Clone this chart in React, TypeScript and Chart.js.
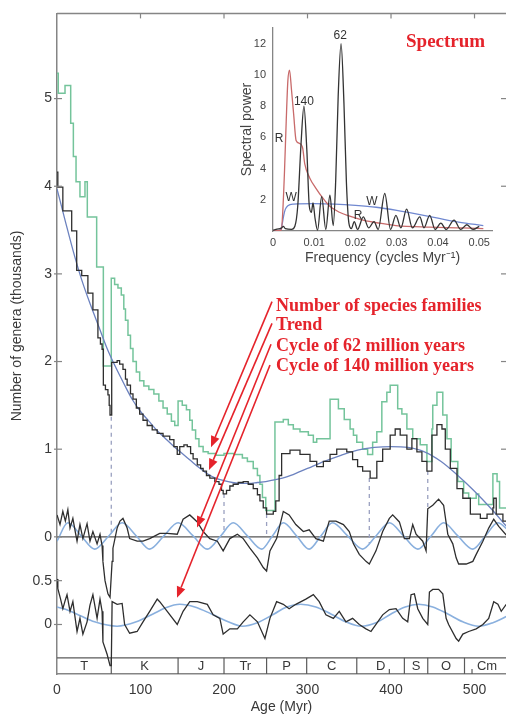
import React, { useEffect, useRef } from 'react';
import { Chart, registerables } from 'chart.js';

Chart.register(...registerables);

// ---------------- main panel data (age in Myr, value in thousands) ----------------
const allGenera: [number, number][] = [
  [0, 5.29], [1.5, 5.06], [9.6, 5.15], [16.4, 4.72], [19.6, 4.34], [22.8, 4.05], [27.5, 3.88], [33.5, 4.05],
  [36.3, 3.65], [47.5, 3.08], [55.5, 1.95], [65, 2.95], [69, 2.88], [73, 2.84], [77, 2.76], [80, 2.6], [82, 2.47],
  [85, 2.3], [88, 2.15], [91, 2.0], [95, 1.88], [99, 1.78], [104, 1.72], [110, 1.68], [116, 1.63], [122, 1.55],
  [127, 1.47], [132, 1.4], [137, 1.32], [141, 1.27], [145, 1.55], [150, 1.5], [155, 1.45], [159, 1.33], [162, 1.22],
  [166, 1.12], [170, 1.03], [175, 0.97], [181, 0.95], [190, 0.93], [200, 0.95], [212, 0.94], [222, 0.9], [228, 0.86],
  [235, 0.78], [240, 0.7], [243, 0.6], [246, 0.45], [250, 0.3], [261, 1.31], [271, 1.34], [277, 1.28], [283, 1.23],
  [291, 1.2], [301, 1.16], [307, 1.08], [311, 1.12], [327, 1.57], [337, 1.46], [344, 1.34], [351, 1.23], [355, 1.16],
  [359, 1.08], [366, 1.0], [372, 0.94], [378, 1.08], [383, 1.2], [389, 1.54], [395, 1.65], [399, 1.73], [408, 1.46],
  [413, 1.4], [419, 1.23], [426, 1.12], [435, 1.05], [443, 0.86], [449, 1.23], [450, 1.5], [455, 1.65], [462, 1.39],
  [467, 1.12], [472, 0.86], [480, 0.63], [487, 0.5], [493, 0.44], [502, 0.49], [505, 0.37], [522, 0.72], [527, 0.63],
  [530, 0.33], [540, 0.28],
];

const resolvedGenera: [number, number][] = [
  [0, 4.16], [1, 3.99], [7, 3.72], [17.6, 3.49], [23.6, 3.04], [29.6, 2.98], [37, 2.78], [43, 2.59], [49, 2.27],
  [52, 2.2], [54, 2.14], [55.5, 1.73], [58, 1.68], [61, 1.62], [62.5, 1.5], [63.5, 1.39], [65.5, 1.99], [72, 2.01],
  [75, 1.97], [79, 1.91], [82, 1.8], [84, 1.73], [88, 1.63], [91, 1.57], [95, 1.47], [99, 1.4], [103, 1.33],
  [108, 1.27], [114, 1.22], [120, 1.18], [127, 1.15], [135, 1.11], [140, 1.03], [144, 0.94], [147, 1.03],
  [152, 1.05], [156, 1.03], [160, 0.95], [163, 0.89], [168, 0.82], [172, 0.78], [175, 0.75], [179, 0.7],
  [183, 0.67], [189, 0.63], [194, 0.6], [197, 0.53], [199, 0.49], [203, 0.53], [207, 0.58], [211, 0.6],
  [217, 0.62], [223, 0.63], [229, 0.6], [235, 0.55], [240, 0.48], [243, 0.41], [247, 0.33], [251, 0.26],
  [259, 0.29], [262, 0.41], [266, 0.7], [269, 0.95], [279, 0.99], [291, 0.94], [303, 0.86], [311, 0.8],
  [319, 0.86], [327, 0.94], [335, 1.0], [347, 0.97], [354, 0.88], [360, 0.8], [366, 0.75], [375, 0.67],
  [383, 0.86], [390, 1.0], [399, 1.16], [405, 1.23], [411, 1.16], [419, 1.0], [425, 1.12], [431, 0.97],
  [437, 0.86], [443, 0.75], [449, 1.16], [455, 1.28], [461, 1.23], [465, 1.0], [471, 0.78], [479, 0.55],
  [486, 0.44], [495, 0.26], [507, 0.21], [515, 0.26], [522, 0.33], [523, 0.44], [526, 0.26], [534, 0.18],
  [540, 0.16],
];

const trend: [number, number][] = [
  [0, 3.97], [10, 3.6], [20, 3.24], [30, 2.92], [40, 2.65], [50, 2.4], [60, 2.15], [70, 1.94], [80, 1.75],
  [90, 1.57], [100, 1.43], [110, 1.32], [120, 1.21], [130, 1.12], [140, 1.03], [150, 0.95], [160, 0.87],
  [170, 0.79], [180, 0.72], [190, 0.67], [200, 0.64], [210, 0.62], [220, 0.61], [230, 0.61], [240, 0.62],
  [250, 0.63], [260, 0.65], [270, 0.67], [280, 0.7], [290, 0.74], [300, 0.78], [320, 0.86], [340, 0.93],
  [360, 0.99], [380, 1.02], [400, 1.03], [420, 1.02], [440, 0.97], [460, 0.86], [480, 0.7], [500, 0.52],
  [520, 0.32], [540, 0.1],
];

// detrended data with the 62 Myr cycle (upper residual panel, zero at 0)
const residual62: [number, number][] = [
  [0, 0.25], [3.6, 0.14], [7, 0.29], [10, 0.18], [13, 0.31], [15.6, 0.1], [19, 0.21], [22, 0.05], [24, -0.05],
  [27.5, 0.14], [31, -0.02], [36, 0.15], [39.5, -0.05], [43, 0.06], [48, -0.08], [51.5, 0.03], [54, -0.1],
  [55, -0.28], [57.5, -0.5], [61, -0.65], [63.5, -0.69], [66, -0.28], [67, -0.13], [72, 0.1], [75.4, 0.18],
  [79, 0.21], [84, 0.1], [87, -0.02], [96, -0.05], [103, -0.05], [111, -0.02], [123, 0.04], [132, 0.04],
  [144, 0.03], [151, 0.2], [159, 0.25], [168, 0.17], [175, 0.06], [183, -0.02], [192, -0.05], [199, -0.16],
  [207, -0.02], [216, 0.03], [223, -0.02], [231, -0.13], [240, -0.24], [247, -0.35], [251, -0.39], [255, -0.16],
  [263, -0.02], [271, 0.29], [278, 0.25], [286, 0.14], [295, 0.06], [302, 0.08], [310, -0.02], [319, -0.05],
  [326, 0.18], [334, 0.18], [343, 0.14], [350, 0.06], [355, -0.08], [362, -0.2], [370, -0.28], [374, -0.31],
  [382, -0.16], [390, 0.06], [398, 0.21], [402, 0.25], [410, 0.17], [416, -0.02], [422, -0.02], [426, 0.14],
  [430, 0.03], [438, -0.05], [442, -0.16], [444, 0.32], [450, 0.36], [457, 0.43], [463, 0.36], [468, 0.03],
  [474, -0.08], [478, -0.24], [481, -0.31], [490, -0.31], [498, -0.28], [502, -0.2], [510, -0.05], [517, 0.1],
  [523, 0.2], [529, 0.12], [538, 0.02],
];

const cycle62: [number, number][] = [
  [0, -0.05], [13, 0.16], [29, 0.01], [45, -0.14], [62, 0.01], [78, 0.16], [95, 0.01], [111, -0.14], [128, 0.01],
  [145, 0.16], [163, 0.01], [180, -0.14], [196, 0.01], [211, 0.16], [228, 0.01], [245, -0.14], [258, 0.01],
  [271, 0.16], [287, 0.01], [302, -0.14], [316, 0.01], [330, 0.16], [348, 0.01], [366, -0.14], [382, 0.01],
  [398, 0.16], [415, 0.01], [432, -0.14], [448, 0.01], [463, 0.16], [480, 0.01], [498, -0.14], [513, 0.01],
  [528, 0.16], [540, 0.08],
];

// data after removing the 62 Myr cycle (lower residual panel, own zero)
const residual140: [number, number][] = [
  [0, 0.52], [1, 0.41], [4, 0.3], [7, 0.18], [10, 0.28], [12, 0.34], [15.6, 0.15], [19, 0.26], [24, -0.08],
  [27.5, 0.07], [31, -0.11], [36, 0.03], [39.5, 0.22], [43, 0.34], [48, 0.07], [51.5, 0.29], [54, 0.15],
  [55, -0.2], [60, -0.34], [63.5, -0.47], [65, -0.47], [66, 0.26], [72, 0.23], [78, 0.24], [81, 0], [87, -0.1],
  [96, -0.08], [103, 0.03], [111, 0.15], [120, 0.29], [123, 0.26], [132, 0.15], [144, 0], [151, 0.15],
  [159, 0.26], [168, 0.26], [180, 0.23], [187, 0.11], [195, 0.07], [199, -0.11], [207, -0.05], [216, -0.05],
  [223, 0.03], [231, 0.11], [240, 0.03], [249, -0.16], [255, 0.07], [263, 0.26], [271, 0.23], [278, 0.18],
  [286, 0.23], [298, 0.29], [307, 0.34], [314, 0.26], [322, 0.11], [331, 0.07], [338, 0.15], [346, 0.03],
  [354, 0.07], [362, 0], [370, -0.05], [376, -0.08], [382, 0], [390, 0.11], [398, 0.17], [406, 0.18],
  [414, 0.07], [420, 0.03], [424, 0.34], [428, 0.35], [432, 0.18], [438, 0.07], [444, 0], [446, 0.37],
  [450, 0.4], [457, 0.4], [462, 0.35], [466, 0.07], [469, 0], [478, -0.16], [481, -0.19], [486, -0.11],
  [493, -0.08], [502, -0.05], [510, 0], [517, 0.07], [523, 0.26], [528, 0.23], [532, 0.15], [538, 0.23],
];

const cycle140: [number, number][] = [
  [0, 0.2], [14, 0.16], [28, 0.1], [45, 0.03], [72, -0.02], [95, 0.03], [115, 0.12], [130, 0.19], [147, 0.23],
  [165, 0.2], [185, 0.12], [205, 0.03], [222, -0.02], [240, 0.02], [260, 0.12], [275, 0.2], [292, 0.23],
  [310, 0.2], [328, 0.12], [346, 0.03], [364, -0.02], [382, 0.02], [400, 0.12], [417, 0.2], [433, 0.23],
  [450, 0.2], [468, 0.12], [486, 0.03], [505, -0.02], [522, 0.02], [540, 0.1],
];

// extinction events (dashed markers)
const extinctionAges = [65, 200, 251, 374, 444];
const extinctionTop = [1.37, 0.49, 0.26, 0.67, 0.75];
const extinctionBottom = [0.05, 0.03, 0.0, -0.08, 0.32];

// geologic periods
const periodBounds = [0, 65, 145, 200, 251, 299, 359, 416, 444, 488, 542];
const periodLabels = ['T', 'K', 'J', 'Tr', 'P', 'C', 'D', 'S', 'O', 'Cm'];
const minorPeriodTicks = [398, 497];

// axis ticks
const ageTicks = [0, 100, 200, 300, 400, 500];
const yTickValues = [5, 4, 3, 2, 1, 0, -0.5, -1];
const yTickLabels = ['5', '4', '3', '2', '1', '0', '0.5', '0'];

// annotation texts (red)
const noteLines = ['Number of species families', 'Trend', 'Cycle of 62 million years', 'Cycle of 140 million years'];

// ---------------- inset spectrum data ----------------
const spectrumData: [number, number][] = [
  [0, 0.05], [0.001, 0.12], [0.002, 0.18], [0.0025, 0.3], [0.003, 0.15], [0.0045, 0.1], [0.0053, 0.3],
  [0.006, 1.6], [0.0068, 5.6], [0.0075, 8.0], [0.0082, 5.2], [0.0088, 1.6], [0.0093, 1.2], [0.0097, 1.8],
  [0.0102, 0.8], [0.0108, 0.05], [0.0118, 2.2], [0.0128, 0.1], [0.0138, 2.3], [0.0146, 0.35], [0.0152, 3.2],
  [0.0158, 8.6], [0.0165, 12.0], [0.0172, 8.2], [0.0178, 3.1], [0.0184, 0.5], [0.019, 0.15], [0.0197, 0.6],
  [0.0205, 0.1], [0.0219, 0.9], [0.0232, 0.2], [0.0245, 0.6], [0.0255, 0.1], [0.0271, 2.4], [0.0285, 0.1],
  [0.0298, 1.0], [0.031, 0.2], [0.0324, 1.4], [0.0338, 0.2], [0.0356, 0.9], [0.0366, 0.2], [0.038, 1.0],
  [0.0393, 0.1], [0.0407, 0.5], [0.042, 0.1], [0.0439, 0.7], [0.0455, 0.1], [0.047, 0.4], [0.0485, 0.1],
  [0.05, 0.3],
];
const redNoise: [number, number][] = [
  [0, 0], [0.002, 0.05], [0.0024, 1.4], [0.0028, 3.9], [0.0032, 7.0], [0.0036, 9.6], [0.004, 10.3],
  [0.0045, 9.0], [0.005, 7.5], [0.0056, 5.8], [0.0065, 5.6], [0.0072, 5.3], [0.0077, 4.3], [0.0089, 3.4],
  [0.0105, 2.7], [0.0121, 2.1], [0.0137, 1.6], [0.0161, 1.2], [0.0186, 0.95], [0.0218, 0.7], [0.0258, 0.5],
  [0.0298, 0.35], [0.038, 0.25], [0.0459, 0.2], [0.051, 0.15],
];
const whiteNoise: [number, number][] = [
  [0, 0], [0.0018, 0.05], [0.0022, 0.4], [0.0026, 1.0], [0.003, 1.4], [0.0036, 1.62], [0.005, 1.72],
  [0.01, 1.75], [0.015, 1.72], [0.02, 1.64], [0.025, 1.52], [0.03, 1.32], [0.035, 1.08], [0.04, 0.82],
  [0.045, 0.57], [0.051, 0.35],
];
const freqTicks = [0, 0.01, 0.02, 0.03, 0.04, 0.05];
const freqTickLabels = ['0', '0.01', '0.02', '0.03', '0.04', '0.05'];
const powerTicks = [2, 4, 6, 8, 10, 12];

// ---------------- style ----------------
const SANS = '"Liberation Sans", Arial, Helvetica, sans-serif';
const SERIF = '"Liberation Serif", "Times New Roman", serif';
const GREEN = '#74c49b';
const BLACK = '#2e2e2e';
const TREND = '#6c82bf';
const SINE = '#8ab0de';
const DASH = '#9aa0c0';
const RED = '#e5232b';
const AXIS = '#858585';
const TEXT = '#383838';
const LOWER_ZERO = -1; // lower panel baseline on the shared y scale

const pts = (arr: [number, number][], off = 0) => arr.map(([x, y]) => ({ x, y: y + off }));

function line(ctx: CanvasRenderingContext2D, x1: number, y1: number, x2: number, y2: number) {
  ctx.beginPath();
  ctx.moveTo(x1, y1);
  ctx.lineTo(x2, y2);
  ctx.stroke();
}

function arrow(ctx: CanvasRenderingContext2D, x1: number, y1: number, x2: number, y2: number) {
  const a = Math.atan2(y2 - y1, x2 - x1);
  const hl = 11, hw = 4.5;
  const bx = x2 - hl * Math.cos(a), by = y2 - hl * Math.sin(a);
  ctx.strokeStyle = RED;
  ctx.fillStyle = RED;
  ctx.lineWidth = 1.6;
  line(ctx, x1, y1, bx, by);
  ctx.beginPath();
  ctx.moveTo(x2, y2);
  ctx.lineTo(bx + hw * Math.sin(a), by - hw * Math.cos(a));
  ctx.lineTo(bx - hw * Math.sin(a), by + hw * Math.cos(a));
  ctx.closePath();
  ctx.fill();
}

// annotation anchors in data coordinates (age, value)
const noteAnchor = { age: 262.3, values: [2.582, 2.356, 2.119, 1.893] };
const arrowFrom: [number, number][] = [[257.5, 2.684], [257.5, 2.435], [256.3, 2.198], [255.1, 1.96]];
const arrowTo: [number, number][] = [[184.4, 1.023], [182.0, 0.763], [167.7, 0.107], [143.7, -0.695]];

const mainDecor = {
  id: 'mainDecor',
  beforeDatasetsDraw(chart: any) {
    const { ctx, chartArea: ca, scales } = chart;
    const x = scales.x, y = scales.y;
    ctx.save();
    // geologic time bar
    const boxTop = y.getPixelForValue(-1.38);
    ctx.strokeStyle = '#5a5a5a';
    ctx.lineWidth = 1.2;
    line(ctx, ca.left, boxTop, ca.right, boxTop);
    periodBounds.forEach((b) => {
      if (b > 0 && b < x.max) {
        const px = x.getPixelForValue(b);
        line(ctx, px, boxTop, px, ca.bottom);
      }
    });
    minorPeriodTicks.forEach((b) => {
      const px = x.getPixelForValue(b);
      line(ctx, px, ca.bottom - 5, px, ca.bottom);
    });
    ctx.fillStyle = TEXT;
    ctx.font = `13px ${SANS}`;
    ctx.textAlign = 'center';
    ctx.textBaseline = 'middle';
    periodLabels.forEach((lab, i) => {
      const c = x.getPixelForValue((periodBounds[i] + periodBounds[i + 1]) / 2);
      ctx.fillText(lab, c, (boxTop + ca.bottom) / 2 + 1);
    });
    // zero line of the upper residual panel
    ctx.strokeStyle = '#555';
    ctx.lineWidth = 1.2;
    const z = y.getPixelForValue(0);
    line(ctx, ca.left, z, ca.right, z);
    ctx.restore();
  },
  afterDraw(chart: any) {
    const { ctx, chartArea: ca, scales } = chart;
    const x = scales.x, y = scales.y;
    ctx.save();
    // top frame and inward ticks
    ctx.strokeStyle = AXIS;
    ctx.lineWidth = 1.5;
    line(ctx, ca.left, ca.top, ca.right, ca.top);
    ctx.lineWidth = 1.2;
    ageTicks.forEach((v) => {
      if (v > 0) {
        const px = x.getPixelForValue(v);
        line(ctx, px, ca.top, px, ca.top + 5);
      }
    });
    yTickValues.forEach((v) => {
      const py = y.getPixelForValue(v);
      line(ctx, ca.left - 3, py, ca.left + 5, py);
      if (v >= 0) line(ctx, ca.right - 5, py, ca.right, py);
    });
    // y axis title
    ctx.save();
    ctx.translate(17, 326);
    ctx.rotate(-Math.PI / 2);
    ctx.fillStyle = TEXT;
    ctx.font = `14px ${SANS}`;
    ctx.textAlign = 'center';
    ctx.textBaseline = 'middle';
    ctx.fillText('Number of genera (thousands)', 0, 0);
    ctx.restore();
    // red annotations
    ctx.fillStyle = RED;
    ctx.font = `bold 18px ${SERIF}`;
    ctx.textAlign = 'left';
    ctx.textBaseline = 'alphabetic';
    const tx = x.getPixelForValue(noteAnchor.age);
    noteLines.forEach((t, i) => ctx.fillText(t, tx, y.getPixelForValue(noteAnchor.values[i])));
    arrowFrom.forEach(([a, v], i) => {
      const [a2, v2] = arrowTo[i];
      arrow(ctx, x.getPixelForValue(a), y.getPixelForValue(v), x.getPixelForValue(a2), y.getPixelForValue(v2));
    });
    ctx.restore();
  },
};

function mainConfig(): any {
  const dashed: any[] = [];
  extinctionAges.forEach((a, i) => {
    dashed.push({ x: a, y: extinctionTop[i] }, { x: a, y: extinctionBottom[i] }, { x: a, y: null });
  });
  return {
    type: 'line',
    data: {
      datasets: [
        { label: 'Well-resolved genera', data: pts(resolvedGenera), borderColor: BLACK, borderWidth: 1.3, stepped: true },
        { label: 'Detrended data', data: pts(residual62), borderColor: BLACK, borderWidth: 1.3 },
        { label: 'Residual after 62 Myr cycle', data: pts(residual140, LOWER_ZERO), borderColor: BLACK, borderWidth: 1.3 },
        { label: 'Trend', data: pts(trend), borderColor: TREND, borderWidth: 1.3, cubicInterpolationMode: 'monotone' },
        { label: '62 Myr cycle', data: pts(cycle62), borderColor: SINE, borderWidth: 1.6, cubicInterpolationMode: 'monotone' },
        { label: '140 Myr cycle', data: pts(cycle140, LOWER_ZERO), borderColor: SINE, borderWidth: 1.6, cubicInterpolationMode: 'monotone' },
        { label: 'All genera', data: pts(allGenera), borderColor: GREEN, borderWidth: 1.5, stepped: true },
        { label: 'Extinctions', data: dashed, borderColor: DASH, borderWidth: 1.3, borderDash: [4, 4], spanGaps: false },
      ],
    },
    options: {
      responsive: false,
      animation: false,
      devicePixelRatio: 1,
      layout: { padding: { top: 7, left: 0, right: 0, bottom: 0 } },
      elements: { point: { radius: 0 }, line: { fill: false } },
      plugins: { legend: { display: false }, tooltip: { enabled: false } },
      scales: {
        x: {
          type: 'linear',
          min: 0,
          max: 537.7,
          afterBuildTicks: (s: any) => { s.ticks = ageTicks.map((v) => ({ value: v })); },
          afterFit: (s: any) => { s.height = 43; },
          grid: { display: false, drawTicks: false },
          border: { display: true, color: AXIS, width: 1.5 },
          ticks: { padding: 8, autoSkip: false, maxRotation: 0, color: TEXT, font: { family: SANS, size: 14 } },
          title: { display: true, text: 'Age (Myr)', color: TEXT, font: { family: SANS, size: 14 }, padding: { top: 0, bottom: 1 } },
        },
        y: {
          type: 'linear',
          min: -1.565,
          max: 5.972,
          afterBuildTicks: (s: any) => { s.ticks = yTickValues.map((v) => ({ value: v })); },
          afterFit: (s: any) => { s.width = 57; },
          grid: { display: false, drawTicks: false },
          border: { display: true, color: AXIS, width: 1.5 },
          ticks: {
            padding: 5, autoSkip: false, color: TEXT, font: { family: SANS, size: 14 },
            callback: (_v: any, i: number) => yTickLabels[i],
          },
        },
      },
    },
    plugins: [mainDecor],
  };
}

// inset label anchors in data coordinates
const insetLabels: { t: string; f: number; p: number }[] = [
  { t: '62', f: 0.0163, p: 12.5 },
  { t: '140', f: 0.0075, p: 8.3 },
  { t: 'R', f: 0.0015, p: 5.9 },
  { t: 'W', f: 0.0044, p: 2.15 },
  { t: 'W', f: 0.024, p: 1.85 },
  { t: 'R', f: 0.0206, p: 1.0 },
];

const insetDecor = {
  id: 'insetDecor',
  afterDraw(chart: any) {
    const { ctx, scales } = chart;
    const x = scales.x, y = scales.y;
    ctx.save();
    ctx.fillStyle = '#333';
    ctx.font = `12px ${SANS}`;
    ctx.textAlign = 'center';
    ctx.textBaseline = 'middle';
    insetLabels.forEach((l) => ctx.fillText(l.t, x.getPixelForValue(l.f), y.getPixelForValue(l.p)));
    ctx.fillStyle = RED;
    ctx.font = `bold 19px ${SERIF}`;
    ctx.textAlign = 'left';
    ctx.textBaseline = 'alphabetic';
    ctx.fillText('Spectrum', 176, 47);
    ctx.restore();
  },
};

function insetConfig(): any {
  return {
    type: 'line',
    data: {
      datasets: [
        { label: 'Spectrum', data: pts(spectrumData), borderColor: '#333', borderWidth: 1.3, cubicInterpolationMode: 'monotone' },
        { label: 'Red noise', data: pts(redNoise), borderColor: '#c86a6a', borderWidth: 1.3, cubicInterpolationMode: 'monotone' },
        { label: 'White noise', data: pts(whiteNoise), borderColor: '#7088d0', borderWidth: 1.3, cubicInterpolationMode: 'monotone' },
      ],
    },
    options: {
      responsive: false,
      animation: false,
      devicePixelRatio: 1,
      layout: { padding: { top: 28, right: 14, left: 0, bottom: 0 } },
      elements: { point: { radius: 0 }, line: { fill: false } },
      plugins: { legend: { display: false }, tooltip: { enabled: false } },
      scales: {
        x: {
          type: 'linear',
          min: 0,
          max: 0.0531,
          afterBuildTicks: (s: any) => { s.ticks = freqTicks.map((v) => ({ value: v })); },
          afterFit: (s: any) => { s.height = 39; },
          grid: { display: false, drawTicks: false },
          border: { display: true, color: AXIS, width: 1.3 },
          ticks: {
            padding: 5, autoSkip: false, maxRotation: 0, color: '#444', font: { family: SANS, size: 11 },
            callback: (_v: any, i: number) => freqTickLabels[i],
          },
          title: { display: true, text: 'Frequency (cycles Myr⁻¹)', color: '#444', font: { family: SANS, size: 14 }, padding: { top: 0, bottom: 3.6 } },
        },
        y: {
          type: 'linear',
          min: 0,
          max: 13,
          afterBuildTicks: (s: any) => { s.ticks = powerTicks.map((v) => ({ value: v })); },
          afterFit: (s: any) => { s.width = 43; },
          grid: { display: false, drawTicks: false },
          border: { display: true, color: AXIS, width: 1.3 },
          ticks: { padding: 7, autoSkip: false, color: '#444', font: { family: SANS, size: 11 } },
          title: { display: true, text: 'Spectral power', color: '#444', font: { family: SANS, size: 14 }, padding: { top: 8.6, bottom: 0 } },
        },
      },
    },
    plugins: [insetDecor],
  };
}

export default function App() {
  const mainRef = useRef<HTMLCanvasElement>(null);
  const insetRef = useRef<HTMLCanvasElement>(null);
  useEffect(() => {
    const main = new Chart(mainRef.current as HTMLCanvasElement, mainConfig());
    const inset = new Chart(insetRef.current as HTMLCanvasElement, insetConfig());
    return () => {
      main.destroy();
      inset.destroy();
    };
  }, []);
  return (
    <div style={{ position: 'absolute', left: 0, top: 0, width: 506, height: 717, overflow: 'hidden', background: '#fff' }}>
      <canvas ref={mainRef} width={506} height={717} style={{ position: 'absolute', left: 0, top: 0, width: 506, height: 717 }} />
      <canvas ref={insetRef} width={276} height={270} style={{ position: 'absolute', left: 230, top: 0, width: 276, height: 270 }} />
    </div>
  );
}
